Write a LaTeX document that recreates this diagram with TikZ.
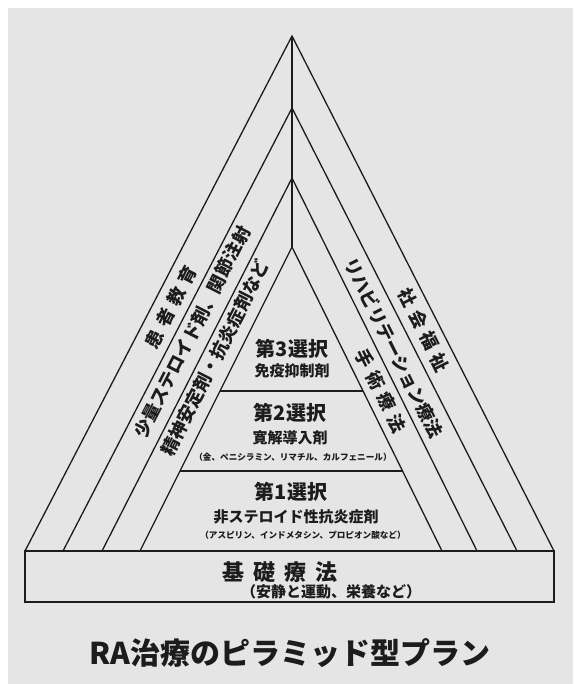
\documentclass[tikz,border=0pt]{standalone}
\usepackage{fontspec}
\setmainfont{Noto Sans CJK JP}
\usetikzlibrary{calc}
\definecolor{ink}{HTML}{1C1C1C}
\definecolor{bgray}{HTML}{E5E5E5}
\newcommand\fsz[1]{\fontsize{#1}{#1}\selectfont}
\newcommand\kk{\kern6pt}
\begin{document}
\begin{tikzpicture}[x=1pt,y=-1pt,line width=1.3pt,
  ln/.style={draw=ink,line join=miter},
  txt/.style={text=ink,inner sep=0pt},
  sel/.style={txt,font=\fsz{20}\bfseries},
  sub/.style={txt,font=\fsz{15}\bfseries},
  tiny/.style={txt,font=\fsz{8.6}\bfseries},
  bandl/.style={txt,font=\fsz{18}\bfseries,rotate=63},
  bandr/.style={txt,font=\fsz{18}\bfseries,rotate=-63.5}]
\useasboundingbox (0,0) rectangle (573,684);
\fill[bgray] (8,8) rectangle (573,684);
% apexes
\coordinate (a1) at (292,36);
\coordinate (a2) at (292,108);
\coordinate (a3) at (292,178);
\coordinate (a4) at (292,247);
% base points
\coordinate (l1) at (25,551);
\coordinate (l2) at (63,551);
\coordinate (l3) at (102,551);
\coordinate (l4) at (140,551);
\coordinate (r1) at (554,551);
\coordinate (r2) at (517,551);
\coordinate (r3) at (477,551);
\coordinate (r4) at (442,551);
\coordinate (br) at (554,602);
% triangles
\draw[ln] (l1) -- (a1) -- (r1);
\draw[ln] (l2) -- (a2) -- (r2);
\draw[ln] (l3) -- (a3) -- (r3);
\draw[ln] (l4) -- (a4) -- (r4);
\draw[ln] (a1) -- (a4);
% inner separators
\draw[ln] ($(a4)!0.4737!(l4)$) -- ($(a4)!0.4737!(r4)$);
\draw[ln] ($(a4)!0.7368!(l4)$) -- ($(a4)!0.7368!(r4)$);
% base box
\draw[ln] (l1) rectangle (br);
% inner texts
\node[sel] (s3) at (292,349) {第3選択};
\node[sub] (s3a) at (292,371) {免疫抑制剤};
\node[sel] (s2) at (290,413) {第2選択};
\node[sub] (s2a) at (290,438) {寛解導入剤};
\node[tiny] (s2b) at (293,457) {（金、ペニシラミン、リマチル、カルフェニール）};
\node[sel] (s1) at (291,492) {第1選択};
\node[sub] (s1a) at (296,517) {非ステロイド性抗炎症剤};
\node[tiny] (s1b) at (303,535) {（アスピリン、インドメタシン、プロピオン酸など）};
% base texts
\node[txt,font=\fsz{22}\bfseries] (b0) at (280,572) {基\kern9pt 礎\kern9pt 療\kern9pt 法};
\node[sub] (b1) at (331,592) {（安静と運動、栄養など）};
% band texts
\node[bandl] (lb1) at (171,307) {患\kk 者\kk 教\kk 育};
\node[bandl] (lb2) at (192,332) {少量ステロイド剤、関節注射};
\node[bandl] (lb3) at (215,358) {精神安定剤・抗炎症剤など};
\node[bandr] (rb1) at (424,330) {社\kk 会\kk 福\kk 祉};
\node[bandr] (rb2) at (394,348) {リハビリテーション療法};
\node[bandr] (rb3) at (381,391) {手\kk 術\kk 療\kk 法};
% caption
\node[txt,font=\fsz{30}\bfseries] (cap) at (290,653) {RA治療のピラミッド型プラン};
\end{tikzpicture}
\end{document}
